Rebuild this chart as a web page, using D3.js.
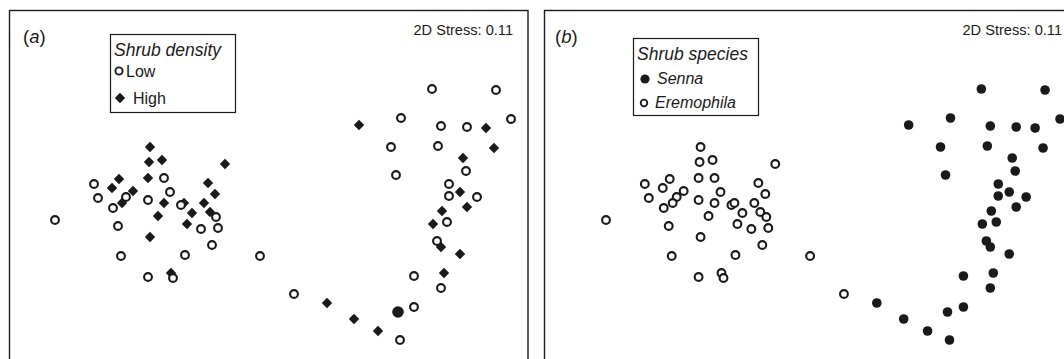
<!DOCTYPE html>
<html>
<head>
<meta charset="utf-8">
<script src="https://cdn.jsdelivr.net/npm/d3@7"></script>
<style>
  html, body { margin: 0; padding: 0; background: #fff; }
  svg { display: block; }
  text { font-family: "Liberation Sans", Arial, Helvetica, sans-serif; fill: #1a1a1a; }
</style>
</head>
<body>
<svg id="chart" width="1064" height="359"></svg>
<script>
// NMDS axis 1 scores per sample
const nmds1 = [
  -1.20,-1.21,-1.08,-0.45,-1.76,-1.51,-1.58,-1.22,-1.06,-0.62,
  -1.72,-1.37,-1.44,-1.48,-1.00,-0.55,-1.57,-1.22,-1.06,-0.89,
  -0.86,-0.66,-0.78,-0.60,-0.54,-1.12,-2.15,-1.52,-0.83,-0.69,
  -0.52,-1.20,-0.58,-1.49,-0.85,-1.22,-0.99,-0.97,
  -0.10, 0.24, 1.62, 2.26, 1.31, 1.71, 1.97, 2.41, 1.21, 1.68,
   1.26, 1.96, 1.79, 1.79, 2.07, 1.77, 1.67, 1.44, 1.71, 1.44,
   1.30, 0.89, 2.16, 2.24, 1.93, 1.90, 1.72, 1.97, 1.63, 1.71,
   1.90, 1.74, 0.57, 0.84, 1.08, 1.28
];
// NMDS axis 2 scores per sample
const nmds2 = [
   0.53, 0.38, 0.40, 0.36, 0.16, 0.21, 0.12, 0.22, 0.22, 0.17,
   0.02, 0.09, 0.03,-0.03, 0.08, 0.06,-0.08, 0.00,-0.03,-0.05,
  -0.03,-0.03,-0.13,-0.12,-0.17,-0.16,-0.20,-0.26,-0.24,-0.29,
  -0.28,-0.37,-0.45,-0.56,-0.55,-0.77,-0.73,-0.78,
  -0.56,-0.94, 1.11, 1.10, 0.82, 0.74, 0.73, 0.81, 0.53, 0.54,
   0.25, 0.29, 0.16, 0.04, 0.03,-0.22,-0.41,-0.76,-0.88,-1.07,
  -1.40, 0.75, 0.72, 0.52, 0.42, 0.08,-0.11,-0.07,-0.24,-0.47,
  -0.54,-0.73,-1.03,-1.19,-1.31,-1.12
];
// Shrub density per sample (L = Low, H = High, M = overlapping Low/High)
const density = [
  "H","H","H","H","L","H","H","H","L","H",
  "L","H","L","H","L","H","L","L","H","L",
  "H","H","H","H","L","H","L","L","H","L",
  "L","H","L","L","L","L","H","L",
  "L","L","L","L","L","L","L","L","L","L",
  "L","L","L","L","L","L","L","L","L","L",
  "L","H","H","H","H","H","H","H","H","H",
  "H","H","H","H","H","M"
];
// Shrub species per sample (E = Eremophila, S = Senna)
const species = [
  "E","E","E","E","E","E","E","E","E","E",
  "E","E","E","E","E","E","E","E","E","E",
  "E","E","E","E","E","E","E","E","E","E",
  "E","E","E","E","E","E","E","E",
  "E","E","S","S","S","S","S","S","S","S",
  "S","S","S","S","S","S","S","S","S","S",
  "S","S","S","S","S","S","S","S","S","S",
  "S","S","S","S","S","S"
];
const panelLabels = ["a", "b"];
const stressLabel = "2D Stress: 0.11";
const densityLegendTitle = "Shrub density";
const densityLegendItems = ["Low", "High"];
const speciesLegendTitle = "Shrub species";
const speciesLegendItems = ["Senna", "Eremophila"];

const svg = d3.select("#chart");
const ink = "#1a1a1a";

const samples = nmds1.map((x, i) => ({ x, y: nmds2[i], density: density[i], species: species[i] }));

const y = d3.scaleLinear().domain([1.11, -1.40]).range([89, 340]);
const xA = d3.scaleLinear().domain([-2.15, 2.41]).range([55, 511]);
const xB = d3.scaleLinear().domain([-2.15, 2.41]).range([606, 1060]);

function diamondPath(h) {
  return `M0,${-h}L${h},0L0,${h}L${-h},0Z`;
}

// Panel frames
svg.append("rect").attr("x", 9.5).attr("y", 10.5).attr("width", 518.5).attr("height", 420)
  .attr("fill", "none").attr("stroke", ink).attr("stroke-width", 1.4);
svg.append("rect").attr("x", 544.5).attr("y", 10.5).attr("width", 540).attr("height", 420)
  .attr("fill", "none").attr("stroke", ink).attr("stroke-width", 1.4);

// Panel labels
function panelLabel(x, letter) {
  const t = svg.append("text").attr("x", x).attr("y", 43).attr("font-size", 18.5);
  t.append("tspan").text("(");
  t.append("tspan").attr("font-style", "italic").text(letter);
  t.append("tspan").text(")");
}
panelLabel(23, panelLabels[0]);
panelLabel(555, panelLabels[1]);

// Stress labels
svg.append("text").attr("x", 513).attr("y", 35).attr("text-anchor", "end").attr("font-size", 14.6).text(stressLabel);
svg.append("text").attr("x", 1062).attr("y", 35).attr("text-anchor", "end").attr("font-size", 14.6).text(stressLabel);

// Panel (a) points: draw High first, then Low / mixed on top
const gA = svg.append("g");
const orderA = samples.slice().sort((a, b) => (a.density === "H" ? 0 : 1) - (b.density === "H" ? 0 : 1));
orderA.forEach(d => {
  const cx = xA(d.x), cy = y(d.y);
  if (d.density === "H") {
    gA.append("path").attr("d", diamondPath(5.2)).attr("transform", `translate(${cx},${cy})`).attr("fill", ink);
  } else if (d.density === "L") {
    gA.append("circle").attr("cx", cx).attr("cy", cy).attr("r", 3.9)
      .attr("fill", "#fff").attr("stroke", ink).attr("stroke-width", 2.1);
  } else {
    gA.append("circle").attr("cx", cx).attr("cy", cy).attr("r", 5.8).attr("fill", ink);
  }
});

// Panel (b) points
const gB = svg.append("g");
samples.forEach(d => {
  const cx = xB(d.x), cy = y(d.y);
  if (d.species === "S") {
    gB.append("circle").attr("cx", cx).attr("cy", cy).attr("r", 4.8).attr("fill", ink);
  } else {
    gB.append("circle").attr("cx", cx).attr("cy", cy).attr("r", 3.9)
      .attr("fill", "#fff").attr("stroke", ink).attr("stroke-width", 2.1);
  }
});

// Legend (a)
const la = svg.append("g");
la.append("rect").attr("x", 110.5).attr("y", 34.5).attr("width", 125).attr("height", 78)
  .attr("fill", "#fff").attr("stroke", ink).attr("stroke-width", 1.2);
la.append("text").attr("x", 114).attr("y", 56).attr("font-size", 17.5).attr("font-style", "italic").text(densityLegendTitle);
la.append("circle").attr("cx", 119).attr("cy", 71).attr("r", 3.6).attr("fill", "#fff").attr("stroke", ink).attr("stroke-width", 1.9);
la.append("text").attr("x", 126).attr("y", 77).attr("font-size", 16).text(densityLegendItems[0]);
la.append("path").attr("d", diamondPath(5.2)).attr("transform", "translate(120,98)").attr("fill", ink);
la.append("text").attr("x", 133).attr("y", 104).attr("font-size", 16).text(densityLegendItems[1]);

// Legend (b)
const lb = svg.append("g");
lb.append("rect").attr("x", 633.5).attr("y", 38.5).attr("width", 125).attr("height", 77)
  .attr("fill", "#fff").attr("stroke", ink).attr("stroke-width", 1.2);
lb.append("text").attr("x", 637).attr("y", 60).attr("font-size", 17.5).attr("font-style", "italic").text(speciesLegendTitle);
lb.append("circle").attr("cx", 645).attr("cy", 79).attr("r", 4.6).attr("fill", ink);
lb.append("text").attr("x", 657).attr("y", 84).attr("font-size", 16).attr("font-style", "italic").text(speciesLegendItems[0]);
lb.append("circle").attr("cx", 644).attr("cy", 103).attr("r", 3.3).attr("fill", "#fff").attr("stroke", ink).attr("stroke-width", 1.8);
lb.append("text").attr("x", 655).attr("y", 108).attr("font-size", 16).attr("font-style", "italic").text(speciesLegendItems[1]);
</script>
</body>
</html>
